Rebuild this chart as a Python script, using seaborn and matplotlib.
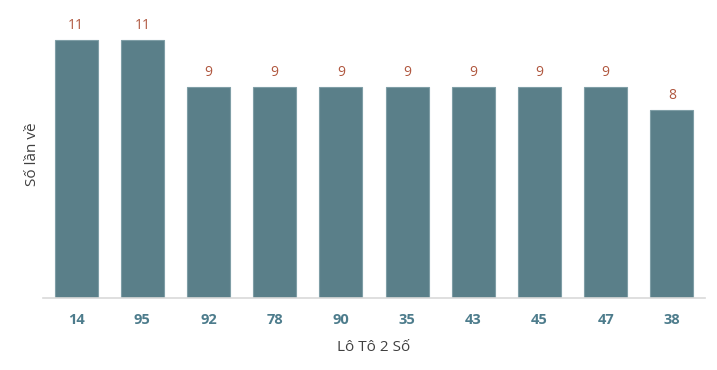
import matplotlib
matplotlib.use("Agg")
import matplotlib.pyplot as plt
import seaborn as sns
import pandas as pd

categories = ["14", "95", "92", "78", "90", "35", "43", "45", "47", "38"]
values = [11, 11, 9, 9, 9, 9, 9, 9, 9, 8]

sns.set_theme(style="white")
plt.rcParams['font.family'] = ['Open Sans', 'DejaVu Sans']

df = pd.DataFrame({"cat": categories, "val": values})

fig = plt.figure(figsize=(7.17, 3.70), dpi=100)
ax = fig.add_axes([43/717, 72/370, 662/717, 288/370])
sns.barplot(data=df, x="cat", y="val", order=categories, color="#5a7f89",
            saturation=1, width=0.65, edgecolor="#7f9ea6", linewidth=0.8, ax=ax)

for i, v in enumerate(values):
    ax.text(i, v + 0.3, str(v), ha="center", va="bottom", fontsize=10, color="#b0573f")

ax.set_xlim(-0.5, 9.5)
ax.set_ylim(0, 12.26)
ax.set_yticks([])
for s in ["top", "right", "left"]:
    ax.spines[s].set_visible(False)
ax.spines["bottom"].set_color("#d9d9d9")
ax.spines["bottom"].set_linewidth(1.2)
ax.tick_params(axis="x", length=0, pad=11, labelsize=10.5, labelcolor="#4d7c8c")
for lab in ax.get_xticklabels():
    lab.set_fontweight("bold")
ax.set_xlabel("Lô Tô 2 Số", fontsize=11, color="#404040", labelpad=9)
ax.set_ylabel("Số lần về", fontsize=11, color="#404040", labelpad=2)

fig.savefig("out.png", dpi=100)
